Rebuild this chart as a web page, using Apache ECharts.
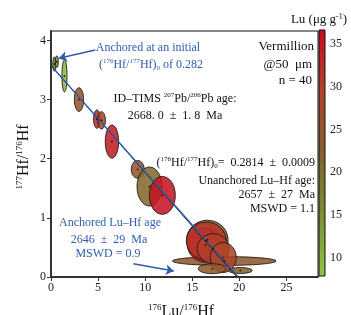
<!DOCTYPE html>
<html>
<head>
<meta charset="utf-8">
<script src="https://cdn.jsdelivr.net/npm/echarts@6/dist/echarts.min.js"></script>
<style>
html,body{margin:0;padding:0;background:#fff;}
#chart{width:351px;height:315px;}
</style>
</head>
<body>
<div id="chart"></div>
<script>
var serif = "'Liberation Serif','DejaVu Serif',serif";
var blue = '#2d5eae';

// spot analyses (drawing order = back to front)
var luHf  = [0.35, 0.62, 1.43, 2.97, 4.88, 5.37, 6.47, 9.21, 10.46, 11.82, 16.6, 18.4, 16.4, 16.49, 17.23, 18.29, 17.12, 20.1];
var hfHf  = [3.60, 3.64, 3.40, 3.00, 2.67, 2.65, 2.29, 1.82, 1.53, 1.38, 0.63, 0.27, 0.54, 0.61, 0.48, 0.33, 0.14, 0.11];
var errX  = [0.16, 0.16, 0.27, 0.49, 0.36, 0.41, 0.71, 0.69, 1.33, 1.38, 2.2, 5.5, 1.91, 2.12, 1.70, 1.38, 1.49, 1.27];
var errY  = [0.12, 0.10, 0.27, 0.20, 0.155, 0.146, 0.28, 0.15, 0.33, 0.32, 0.33, 0.075, 0.29, 0.32, 0.253, 0.253, 0.084, 0.05];
var luPpm = [16, 14, 9, 25, 32, 28, 34, 25, 21, 35, 23, 24, 36, 31, 30, 29, 24, 22];

// isochrons and arrows
var anchoredLine   = [[0.25, 3.53], [19.9, 0]];
var unanchoredLine = [[0.05, 3.57], [19.75, 0]];
var arrowTop    = [[4.7, 3.84], [0.83, 3.70]];
var arrowBottom = [[8.74, 0.225], [13.04, 0.10]];

// colour scale
var luMin = 7.9, luMax = 36.6;
var luTicks = [10, 15, 20, 25, 30, 35];
var luColors = ['#8cc63f', '#7b9034', '#85612c', '#b0442a', '#cc0a20'];

var pts = luHf.map(function(x, i){ return [x, hfHf[i], errX[i], errY[i], luPpm[i]]; });

var chart = echarts.init(document.getElementById('chart'));

function rt(x, y, text, opt){
    opt = opt || {};
    var fs = opt.fontSize || 12;
    return {
        type: 'text', x: x, y: y, rotation: opt.rotation || 0, z: 100,
        style: {
            text: text, fill: opt.color || '#111', fontFamily: serif, fontSize: fs,
            align: opt.align || 'center', verticalAlign: 'middle', lineHeight: fs + 2,
            rich: {
                s: {fontSize: Math.round(fs * 0.58), fontFamily: serif, fill: opt.color || '#111', verticalAlign: 'top', lineHeight: fs + 2},
                b: {fontSize: Math.round(fs * 0.58), fontFamily: serif, fill: opt.color || '#111', verticalAlign: 'bottom', lineHeight: fs + 2}
            }
        }
    };
}

var option = {
    animation: false,
    grid: [
        {left: 51, top: 31, width: 267, height: 246, show: true, borderColor: '#111', borderWidth: 1},
        {left: 319, top: 30, width: 6, height: 246}
    ],
    xAxis: [{
        gridIndex: 0, type: 'value', min: 0, max: 28.35, interval: 5,
        axisLine: {lineStyle: {color: '#333', width: 2}},
        axisTick: {length: 4, lineStyle: {color: '#333'}},
        axisLabel: {fontFamily: serif, fontSize: 12, color: '#222', margin: 5, showMaxLabel: false},
        splitLine: {show: false}
    }, {
        gridIndex: 1, type: 'value', min: 0, max: 1, show: false
    }],
    yAxis: [{
        gridIndex: 0, type: 'value', min: 0, max: 4.16, interval: 1,
        axisLine: {lineStyle: {color: '#333', width: 2}},
        axisTick: {length: 4, lineStyle: {color: '#333'}},
        axisLabel: {fontFamily: serif, fontSize: 12, color: '#222', margin: 5, showMaxLabel: false},
        splitLine: {show: false}
    }, {
        gridIndex: 1, type: 'value', min: luMin, max: luMax, position: 'right',
        axisLine: {show: false},
        axisTick: {show: true, length: 4, customValues: luTicks, lineStyle: {color: '#333'}},
        axisLabel: {show: true, customValues: luTicks, fontFamily: serif, fontSize: 12, color: '#222', margin: 5},
        splitLine: {show: false}
    }],
    visualMap: {
        type: 'continuous', show: false, min: luMin, max: luMax,
        dimension: 4, seriesIndex: 0, inRange: {color: luColors}
    },
    series: [{
        type: 'custom',
        xAxisIndex: 0, yAxisIndex: 0,
        clip: true,
        encode: {x: 0, y: 1},
        data: pts,
        renderItem: function(params, api){
            var c = api.coord([api.value(0), api.value(1)]);
            var s = api.size([api.value(2), api.value(3)]);
            return {
                type: 'ellipse',
                shape: {cx: c[0], cy: c[1], rx: s[0], ry: s[1]},
                style: {fill: api.visual('color'), stroke: '#1a1a1a', lineWidth: 1, opacity: 0.88}
            };
        },
        z: 2
    }, {
        type: 'line', xAxisIndex: 0, yAxisIndex: 0,
        data: unanchoredLine, showSymbol: false, symbol: 'none',
        lineStyle: {color: '#111', width: 1}, z: 3
    }, {
        type: 'line', xAxisIndex: 0, yAxisIndex: 0,
        data: anchoredLine, showSymbol: false, symbol: 'none',
        lineStyle: {color: blue, width: 1.2}, z: 4,
        markLine: {
            silent: true, symbol: ['none', 'arrow'], symbolSize: 8,
            label: {show: false},
            lineStyle: {color: blue, width: 1.5, type: 'solid'},
            data: [
                [{coord: arrowTop[0]}, {coord: arrowTop[1]}],
                [{coord: arrowBottom[0]}, {coord: arrowBottom[1]}]
            ]
        }
    }, {
        type: 'scatter', xAxisIndex: 0, yAxisIndex: 0,
        data: pts.map(function(p){ return [p[0], p[1]]; }),
        symbolSize: 2, itemStyle: {color: '#111'}, z: 5
    }, {
        type: 'custom', xAxisIndex: 1, yAxisIndex: 1,
        data: [[0, luMin, luMax]],
        renderItem: function(params, api){
            var p0 = api.coord([0, api.value(2)]);
            var p1 = api.coord([1, api.value(1)]);
            var stops = luColors.map(function(c, i){
                return {offset: 1 - i / (luColors.length - 1), color: c};
            }).reverse();
            return {
                type: 'rect',
                shape: {x: p0[0], y: p0[1], width: p1[0] - p0[0], height: p1[1] - p0[1]},
                style: {
                    fill: new echarts.graphic.LinearGradient(0, 0, 0, 1, stops),
                    stroke: '#111', lineWidth: 1
                }
            };
        }
    }],
    graphic: [
        rt(148, 48, 'Anchored at an initial', {color: blue}),
        rt(151, 65, '({s|176}Hf/{s|177}Hf){b|0} of 0.282', {color: blue}),
        rt(175, 99, 'ID–TIMS {s|207}Pb/{s|206}Pb age:'),
        rt(175, 116, '2668. 0  ±  1. 8  Ma'),
        rt(314, 47, 'Vermillion', {align: 'right', fontSize: 13}),
        rt(312, 65, '@50  μm', {align: 'right', fontSize: 13}),
        rt(312, 81, 'n = 40', {align: 'right', fontSize: 13}),
        rt(315, 163, '({s|176}Hf/{s|177}Hf){b|0}=  0.2814  ±  0.0009', {align: 'right'}),
        rt(315, 181, 'Unanchored Lu–Hf age:', {align: 'right'}),
        rt(315, 195, '2657  ±  27  Ma', {align: 'right'}),
        rt(315, 209, 'MSWD = 1.1', {align: 'right'}),
        rt(110, 223, 'Anchored Lu–Hf age', {color: blue}),
        rt(109, 240, '2646  ±  29  Ma', {color: blue}),
        rt(108, 254, 'MSWD = 0.9', {color: blue}),
        rt(181, 312, '{s|176}Lu/{s|176}Hf', {fontSize: 16}),
        rt(24, 157, '{s|177}Hf/{s|176}Hf', {fontSize: 16, rotation: Math.PI / 2}),
        rt(319, 20, 'Lu (μg g{s|-1})', {fontSize: 13})
    ]
};
chart.setOption(option);
</script>
</body>
</html>
